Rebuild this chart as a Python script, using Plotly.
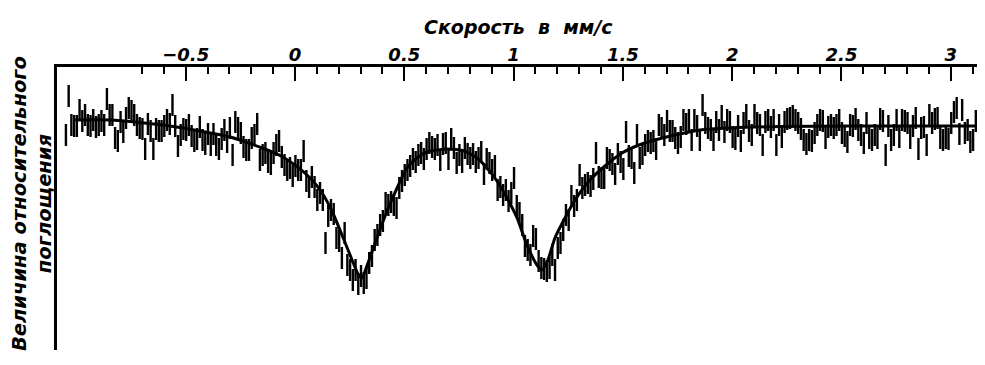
import numpy as np
import plotly.graph_objects as go

# --- data (velocity in mm/s, relative absorption in arbitrary units, larger = more absorption) ---
V_START = -1.048
V_STEP = 0.0125
absorption = [
    # -1.05 .. -0.39
    9, -30, -1, 0, 0, -16, -5, -11, -1, 0, -6, 1, -1, -5, -1, -27, -11, -11, 12, 15,
    -4, 6, -8, -18, -15, -11, -1, 2, 3, 23, -2, 5, 23, 3, 5, 5, 0, -6, -2, -21,
    0, 20, 9, 3, 4, -1, 10, 15, 13, 1, 14, 18, 8, 19,
    # -0.37 .. 0.33
    8, 19, 23, 13, 4, 16, 2, 29, -4, 2, 7, 21, 24, 24, 12, 9, -2, 34, 29, 27,
    36, 38, 27, 19, 15, 31, 39, 44, 42, 50, 40, 44, 44, 25, 55, 61, 51, 61, 74, 67,
    74, 117, 90, 84, 88, 112, 115, 132, 107, 139, 144, 154, 144, 158, 150, 157, 152,
    # 0.34 .. 1.04
    137, 130, 114, 109, 99, 95, 77, 79, 76, 79, 82, 62, 55, 49, 44, 40, 33, 36, 29, 27,
    33, 23, 17, 21, 23, 19, 34, 18, 17, 33, 13, 22, 37, 29, 36, 22, 28, 32, 28, 36,
    32, 26, 48, 33, 37, 44, 40, 64, 61, 69, 64, 75, 67, 52, 80, 87, 99,
    # 1.05 .. 1.74
    120, 124, 129, 110, 113, 135, 142, 143, 145, 142, 129, 144, 122, 117, 104, 89, 94, 70, 80, 74,
    49, 62, 59, 57, 60, 53, 27, 51, 52, 52, 32, 34, 38, 48, 28, 36, 43, 6, 30, 32,
    47, 9, 32, 28, 19, 15, 17, 15, 23, -1, 2, 9, -5, 5, 5, 12,
    # 1.75 .. 2.45
    17, 11, -6, -2, -6, 14, -6, 0, 14, -21, -3, 2, 4, 14, -4, 4, -10, 6, -6, -4,
    11, 13, 0, 15, -3, -11, 5, 9, -11, -3, -1, 19, -4, -6, 1, -6, 19, -1, 11, -4,
    -7, -8, -10, -6, -3, 3, 14, 18, 14, 15, 7, -1, -6, -5, 12, 1, -1,
    # 2.46 .. 3.13
    2, -1, -6, 7, 10, 16, -1, 0, -7, 4, 9, 17, -3, 12, 14, 9, 12, -7, -5, 29,
    0, 14, 9, -6, 11, -6, -5, -3, 12, 0, -8, 23, 2, 1, 19, -11, -3, -7, -8, 12,
    14, 12, 13, -3, -14, -18, 8, -16, 7, 4, 16, 14, -5, -15,
]
ERROR = 11

fit_velocity = [-1.006, -0.846, -0.709, -0.572, -0.435, -0.297, -0.151, -0.073, 0.0, 0.078,
                0.124, 0.169, 0.215, 0.261, 0.288, 0.306, 0.329, 0.375, 0.421, 0.467,
                0.512, 0.558, 0.604, 0.695, 0.773, 0.833, 0.878, 0.924, 0.970, 1.016,
                1.061, 1.107, 1.130, 1.157, 1.189, 1.235, 1.281, 1.345, 1.418, 1.496,
                1.574, 1.647, 1.738, 1.853, 1.990, 2.219, 2.539, 2.859, 3.124]
fit_absorption = [-6, -6, -3.5, 0, 5, 11, 22, 29, 39, 54,
                  67, 85, 109, 134, 148, 152, 140, 112, 85, 62,
                  42, 32, 26, 23, 25, 32, 42, 55, 72, 92,
                  119, 139, 144, 134, 112, 92, 74, 55, 40, 27,
                  19, 14, 9, 4, 2, 0.5, 0, 0, 0]

major_ticks = [-0.5, 0, 0.5, 1, 1.5, 2, 2.5, 3]
major_labels = ["\u22120.5", "0", "0.5", "1", "1.5", "2", "2.5", "3"]
minor_ticks = [round(-0.7 + 0.1 * k, 1) for k in range(39) if round(-0.7 + 0.1 * k, 1) not in major_ticks]

velocity = V_START + V_STEP * np.arange(len(absorption))

FONT = "DejaVu Sans"
PLOT_W, PLOT_H = 928, 283

fig = go.Figure()
fig.add_trace(go.Scatter(
    x=velocity, y=absorption, mode="markers",
    marker=dict(size=1, color="black", opacity=0),
    error_y=dict(type="constant", value=ERROR, thickness=2.4, width=0, color="black"),
    hoverinfo="x+y", showlegend=False,
))
fig.add_trace(go.Scatter(
    x=fit_velocity, y=fit_absorption, mode="lines",
    line=dict(color="black", width=3, shape="spline", smoothing=0.6),
    showlegend=False,
))

# page body has an 8 px default margin, so the figure is 8 px smaller than the window
fig.update_layout(
    width=977, height=357,
    margin=dict(l=49, r=0, t=59, b=15),
    paper_bgcolor="white", plot_bgcolor="white",
    xaxis=dict(
        side="top", range=[-1.0888, 3.1565], automargin=False,
        showline=True, linewidth=2.5, linecolor="black",
        showgrid=False, zeroline=False,
        ticks="inside", ticklen=14, tickwidth=2, tickcolor="black",
        tickmode="array", tickvals=major_ticks, ticktext=major_labels,
        ticklabelstandoff=-4,
        tickfont=dict(family=FONT, size=18, color="black", style="italic", weight="bold"),
        minor=dict(ticks="inside", ticklen=7, tickwidth=2, tickcolor="black",
                   tickmode="array", tickvals=minor_ticks, showgrid=False),
    ),
    yaxis=dict(
        range=[224, -59], showline=True, linewidth=2.5, linecolor="black", automargin=False,
        showgrid=False, zeroline=False, ticks="", showticklabels=False,
    ),
    annotations=[
        dict(
            text="Скорость  в  мм/с",
            xref="paper", yref="paper", x=(518 - 57) / PLOT_W, y=1 + (67 - 27) / PLOT_H,
            xanchor="center", yanchor="middle", showarrow=False,
            font=dict(family=FONT, size=19, color="black", style="italic", weight="bold"),
        ),
        dict(
            text="Величина относительного<br>поглощения",
            xref="paper", yref="paper", x=(32 - 57) / PLOT_W, y=(350 - 204) / PLOT_H,
            xanchor="center", yanchor="middle", textangle=-90, showarrow=False,
            font=dict(family=FONT, size=19.5, color="black", style="italic", weight="bold"),
        ),
    ],
)

fig.write_html("out.html")
